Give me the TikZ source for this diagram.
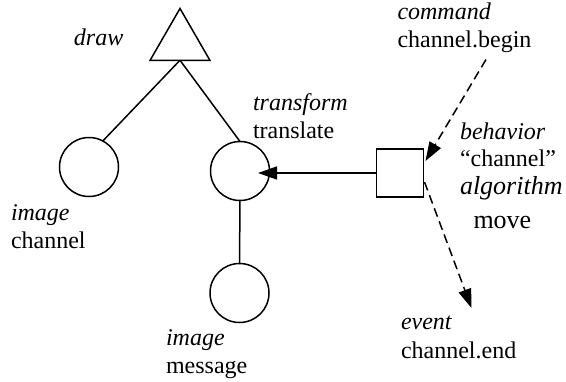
\documentclass[tikz,border=0pt]{standalone}
\usepackage{fontspec}
\setmainfont{Liberation Serif}
\usetikzlibrary{arrows.meta,shapes.geometric}
\begin{document}
\begin{tikzpicture}[x=1pt,y=-1pt,
  every node/.style={font=\fontsize{24}{28}\selectfont},
  lbl/.style={anchor=base west,inner sep=0pt,outer sep=0pt},
  big/.style={font=\fontsize{26}{30}\selectfont},
  obj/.style={circle,draw,line width=1.5pt,minimum size=59pt,inner sep=0pt,outer sep=0pt},
  root/.style={regular polygon,regular polygon sides=3,draw,line width=1.5pt,
    minimum size=69pt,inner sep=0pt,outer sep=0pt},
  beh/.style={rectangle,draw,line width=1.5pt,minimum width=47pt,minimum height=48pt,
    inner sep=0pt,outer sep=0pt},
  link/.style={line width=1.5pt},
  flow/.style={line width=1.5pt,-{Triangle[length=19pt,width=13pt]}},
  trig/.style={line width=1.5pt,dash pattern=on 9pt off 5pt,
    -{Triangle[length=19pt,width=13pt]}}
]
\useasboundingbox (0,0) rectangle (566,381);

% scene graph
\node[root] (tri) at (180,43) {};
\node[obj] (chan) at (89,167) {};
\node[obj] (trans) at (240,171) {};
\node[obj] (msg) at (239.5,293) {};
\node[beh] (sq) at (400,173) {};

\draw[link] (tri.south) -- (chan.62);
\draw[link] (tri.south) -- (trans.north);
\draw[link] (trans.south) -- (msg.north);

% behaviour wiring
\coordinate (hit) at (258,173);
\coordinate (cmdstart) at (486,59.5);
\coordinate (cmdend) at (425.5,161);
\coordinate (evstart) at (424.5,182);
\coordinate (evend) at (471.5,308);
\draw[flow] (sq.west) -- (hit);
\draw[trig] (cmdstart) -- (cmdend);
\draw[trig] (evstart) -- (evend);

% labels
\node[lbl] (ldraw) at (74,45) {\textit{draw}};
\node[lbl] (ltrf) at (253,110) {\textit{transform}};
\node[lbl] (ltrn) at (253,138) {translate};
\node[lbl] (limg1) at (11,220) {\textit{image}};
\node[lbl] (lchan) at (11,248) {channel};
\node[lbl] (limg2) at (166,345) {\textit{image}};
\node[lbl] (lmsg) at (166,373) {message};
\node[lbl] (lcmd) at (397.5,19) {\textit{command}};
\node[lbl] (lbeg) at (397.5,47) {channel.begin};
\node[lbl] (lbeh) at (460,139) {\textit{behavior}};
\node[lbl] (lqch) at (460,166) {“channel”};
\node[lbl,big] (lalg) at (460,194) {\textit{algorithm}};
\node[lbl,big] (lmove) at (473.5,228) {move};
\node[lbl] (lev) at (401,329) {\textit{event}};
\node[lbl] (lend) at (401,358) {channel.end};
\end{tikzpicture}
\end{document}
